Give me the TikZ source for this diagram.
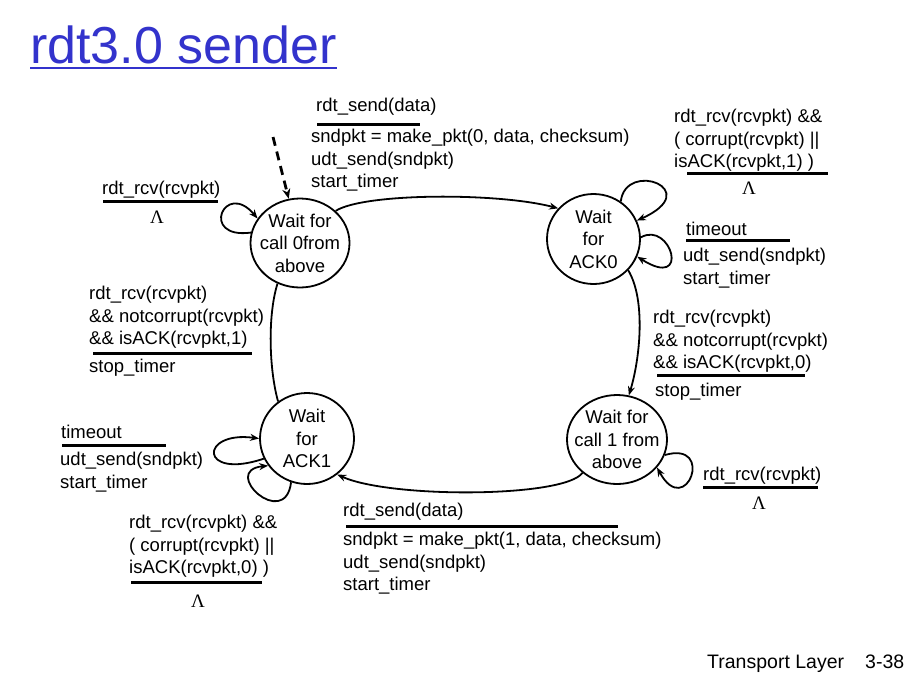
\documentclass[tikz,border=0pt]{standalone}
\usepackage{fontspec}
\setmainfont{Liberation Sans}
\newfontfamily\lamfont{Liberation Serif}
\usepackage{xcolor}
\usetikzlibrary{arrows.meta,shapes.geometric}
\definecolor{titleblue}{RGB}{51,51,204}

\begin{document}
\begin{tikzpicture}[
  x=1pt, y=-1pt,
  wait/.style={draw, ellipse, line width=1.8pt, inner sep=-8pt, align=center, font=\fontsize{18.5}{22.5}\selectfont},
  evt/.style={anchor=north west, inner sep=0pt, yshift=-2pt, align=left, font=\fontsize{18.5}{22.5}\selectfont},
  lam/.style={inner sep=0pt, font=\lamfont\fontsize{19}{19}\selectfont},
  rule/.style={line width=3pt},
  tr/.style={-{Stealth[length=9pt,width=7pt]}, line width=1.8pt},
  entryarr/.style={-{Stealth[length=10pt,width=8pt]}, line width=2.8pt, dash pattern=on 9pt off 6pt}
]
\useasboundingbox[fill=white] (0,0) rectangle (915,694);

\node[anchor=base west, inner sep=0pt, text=titleblue, font=\fontsize{52}{52}\selectfont] (title) at (30,63) {rdt3.0 sender};
\draw[titleblue, line width=2.5pt] ([yshift=-5pt]title.base west) -- ([yshift=-5pt]title.base east);

\node[wait, minimum width=99pt, minimum height=89pt] (call0) at (300,243) {Wait for\\call 0from\\above};
\node[wait, minimum width=93pt, minimum height=90pt] (ack0) at (593.5,239) {Wait\\for\\ACK0};
\node[wait, minimum width=94pt, minimum height=91pt] (ack1) at (307,438.5) {Wait\\for\\ACK1};
\node[wait, minimum width=100pt, minimum height=89pt] (call1) at (617,439.5) {Wait for\\call 1 from\\above};

\coordinate (entry) at (273,137);
\draw[entryarr] (entry) -- (call0);

\draw[tr] (call0.42) .. controls +(28,-18) and +(-61,-16) .. (ack0.139);
\draw[tr] (ack0.-42) .. controls +(18,30) and +(11,-36) .. (call1.75);
\draw[tr] (call1.-136) .. controls +(-18,25) and +(53,24) .. (ack1.-50);
\draw[line width=1.8pt] (ack1.128) .. controls +(-9,-32) and +(-10,32) .. (call0.-119);

\draw[tr] (call0.168) .. controls +(-52,7) and +(-33,-39) .. (call0.150);
\draw[tr] (ack0.54) .. controls +(5,-42) and +(69,-31) .. (ack0.23);
\draw[tr] (ack0.2) .. controls +(30,-17) and +(54,34) .. (ack0.-22);
\draw[tr] (ack1.-155) .. controls +(-65,22) and +(-60,-8) .. (ack1.180);
\draw[tr] (ack1.-110) .. controls +(-6,49) and +(-49,5) .. (ack1.-145);
\draw[tr] (call1.-18) .. controls +(51,-15) and +(29,53) .. (call1.-35);

\node[evt] (send0) at (316,96) {rdt\_send(data)};
\draw[rule] (317,124) -- (420,124);
\node[evt] (send0act) at (311,127) {sndpkt = make\_pkt(0, data, checksum)\\udt\_send(sndpkt)\\start\_timer};

\node[evt] (dup0) at (102,179) {rdt\_rcv(rcvpkt)};
\draw[rule] (103,201) -- (218,201);
\node[lam] (dup0act) at (157,217) {Λ};

\node[evt] (bad0) at (674,107) {rdt\_rcv(rcvpkt) \&\&\\( corrupt(rcvpkt) ||\\isACK(rcvpkt,1) )};
\draw[rule] (687,173) -- (828,173);
\node[lam] (bad0act) at (749,188) {Λ};

\node[evt] (tout0) at (686,220) {timeout};
\draw[rule] (686,240) -- (790,240);
\node[evt] (tout0act) at (683,246) {udt\_send(sndpkt)\\start\_timer};

\node[evt] (ok0) at (653,308) {rdt\_rcv(rcvpkt)\\\&\& notcorrupt(rcvpkt)\\\&\& isACK(rcvpkt,0)};
\draw[rule] (657,375) -- (805,375);
\node[evt] (ok0act) at (655,381) {stop\_timer};

\node[evt] (ok1) at (89,284) {rdt\_rcv(rcvpkt)\\\&\& notcorrupt(rcvpkt)\\\&\& isACK(rcvpkt,1)};
\draw[rule] (93,353) -- (252,353);
\node[evt] (ok1act) at (89,357) {stop\_timer};

\node[evt] (tout1) at (61,423) {timeout};
\draw[rule] (62,445) -- (166,445);
\node[evt] (tout1act) at (60,450) {udt\_send(sndpkt)\\start\_timer};

\node[evt] (bad1) at (129,513) {rdt\_rcv(rcvpkt) \&\&\\( corrupt(rcvpkt) ||\\isACK(rcvpkt,0) )};
\draw[rule] (131,582) -- (262,582);
\node[lam] (bad1act) at (198,601) {Λ};

\node[evt] (send1) at (343,501) {rdt\_send(data)};
\draw[rule] (346,526) -- (618,526);
\node[evt] (send1act) at (343,530) {sndpkt = make\_pkt(1, data, checksum)\\udt\_send(sndpkt)\\start\_timer};

\node[evt] (dup1) at (703,465) {rdt\_rcv(rcvpkt)};
\draw[rule] (703,487) -- (818,487);
\node[lam] (dup1act) at (759,503) {Λ};

\node[anchor=base west, inner sep=0pt, font=\fontsize{19.5}{19.5}\selectfont] (footer) at (707,668) {Transport Layer};
\node[anchor=base west, inner sep=0pt, font=\fontsize{19.5}{19.5}\selectfont] (pageno) at (865,668) {3-38};
\end{tikzpicture}
\end{document}
